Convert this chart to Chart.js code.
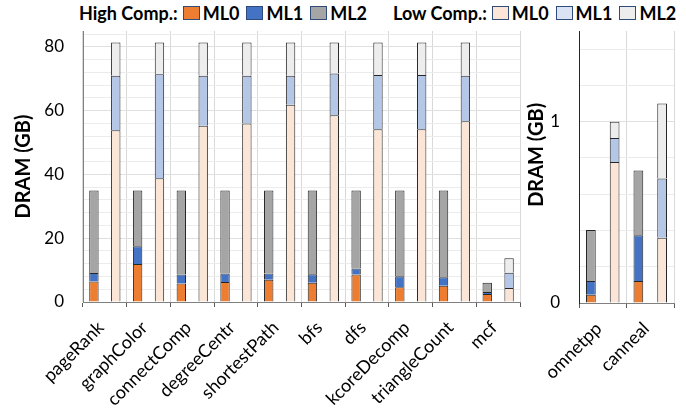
<!DOCTYPE html>
<html>
<head>
<meta charset="utf-8">
<script src="https://cdn.jsdelivr.net/npm/chart.js@4.4.1/dist/chart.umd.min.js"></script>
<style>
  body { margin: 0; background: #fff; width: 686px; height: 410px; overflow: hidden; position: relative; font-family: Lato, sans-serif; }
  .legend { position: absolute; top: 2px; display: flex; align-items: center; font-weight: 700; font-size: 18px; color: #000; white-space: nowrap; }
  .legend .box { display: inline-block; width: 15px; height: 12px; border: 1px solid #2f4b7c; margin: 0 3px 0 7px; }
  .legend .box.first { margin-left: 5px; }
  #wrapLeft { position: absolute; left: 0; top: 0; width: 530px; height: 410px; }
  #wrapRight { position: absolute; left: 500px; top: 0; width: 186px; height: 410px; }
</style>
</head>
<body>
<div class="legend" style="left:79px">
  <span>High Comp.:</span>
  <span class="box first" style="background:#ED7D31"></span><span>ML0</span>
  <span class="box" style="background:#4472C4"></span><span>ML1</span>
  <span class="box" style="background:#A5A5A5"></span><span>ML2</span>
</div>
<div class="legend" style="left:393px">
  <span>Low Comp.:</span>
  <span class="box first" style="background:#FBE5D6"></span><span>ML0</span>
  <span class="box" style="background:#DAE3F3"></span><span>ML1</span>
  <span class="box" style="background:#EDEDED"></span><span>ML2</span>
</div>
<div id="wrapLeft"><canvas id="chartLeft"></canvas></div>
<div id="wrapRight"><canvas id="chartRight"></canvas></div>

<script>
// panel izquierdo (GB)
const leftCategories = ['pageRank', 'graphColor', 'connectComp', 'degreeCentr', 'shortestPath', 'bfs', 'dfs', 'kcoreDecomp', 'triangleCount', 'mcf'];
const leftHighML0 = [6.4, 11.9, 5.8, 6.3, 7.0, 6.0, 8.6, 4.6, 5.1, 2.5];
const leftHighML1 = [2.7, 5.6, 2.8, 2.6, 1.9, 2.7, 1.9, 3.5, 2.65, 0.6];
const leftHighML2 = [25.9, 17.5, 26.4, 26.1, 26.1, 26.3, 24.5, 26.9, 27.25, 2.9];
const leftLowML0 = [53.9, 38.8, 55.3, 56.0, 61.9, 58.6, 54.2, 54.2, 56.7, 4.4];
const leftLowML1 = [17.1, 32.6, 15.7, 15.0, 9.1, 13.1, 17.0, 17.0, 14.3, 4.8];
const leftLowML2 = [10.4, 10.0, 10.4, 10.4, 10.4, 9.7, 10.2, 10.2, 10.4, 4.5];
const leftTickLabels = [0, 20, 40, 60, 80];

// panel derecho (GB)
const rightCategories = ['omnetpp', 'canneal'];
const rightHighML0 = [0.046, 0.122];
const rightHighML1 = [0.076, 0.251];
const rightHighML2 = [0.28, 0.358];
const rightLowML0 = [0.777, 0.36];
const rightLowML1 = [0.133, 0.326];
const rightLowML2 = [0.09, 0.414];
const rightTickLabels = [0, 1];

const highColors = ['#ED7D31', '#4472C4', '#A5A5A5'];
const lowColors = ['#FBE5D6', '#B4C7E7', '#EDEDED'];

function makeDatasets(high, low, barPct) {
    const sets = [];
    // sin borde inferior para que las juntas entre tramos queden de 1px
    const barStyle = {
        borderColor: '#262626',
        borderWidth: { top: 1, left: 1, right: 1, bottom: 0 },
        borderSkipped: false,
        barPercentage: barPct,
        categoryPercentage: 1
    };
    high.forEach((data, i) => sets.push({ label: 'High ML' + i, data, stack: 'high', backgroundColor: highColors[i], ...barStyle }));
    low.forEach((data, i) => sets.push({ label: 'Low ML' + i, data, stack: 'low', backgroundColor: lowColors[i], ...barStyle }));
    return sets;
}

function makeChart(id, p) {
    return new Chart(document.getElementById(id), {
        type: 'bar',
        data: { labels: p.categories, datasets: makeDatasets(p.high, p.low, p.barPct) },
        options: {
            responsive: true,
            maintainAspectRatio: false,
            animation: false,
            layout: { padding: { top: 31, right: p.rightPad, bottom: 0, left: 0 } },
            plugins: { legend: { display: false }, tooltip: { enabled: false } },
            scales: {
                x: {
                    stacked: true,
                    offset: true,
                    grid: { offset: true, color: '#d9d9d9', tickColor: '#595959', tickLength: 5 },
                    border: { color: '#808080' },
                    ticks: {
                        autoSkip: false, minRotation: 45, maxRotation: 45, padding: 10, labelOffset: -4,
                        color: '#000', font: { family: 'Lato', size: 18 }
                    },
                    afterFit: scale => { scale.height = p.xHeight; }
                },
                y: {
                    stacked: true,
                    min: 0,
                    max: p.yMax,
                    grid: {
                        drawTicks: false,
                        color: ctx => (ctx.tick && p.tickLabels.some(t => Math.abs(t - ctx.tick.value) < 1e-6)) ? '#e0e0e0' : '#ececec'
                    },
                    border: { color: p.yBorder },
                    ticks: {
                        autoSkip: false,
                        padding: 19,
                        color: '#000',
                        font: { family: 'Lato', size: 17 },
                        callback: v => p.tickLabels.some(t => Math.abs(t - v) < 1e-6) ? String(Math.round(v)) : ''
                    },
                    afterBuildTicks: scale => {
                        const n = Math.floor(p.yMax / p.step + 1e-9);
                        const t = [];
                        for (let i = 0; i <= n; i++) t.push({ value: Math.round(i * p.step * 1000) / 1000 });
                        scale.ticks = t;
                    },
                    title: {
                        display: true,
                        text: p.title,
                        color: '#000',
                        font: { family: 'Lato', size: 20, weight: 'bold', lineHeight: 1.2 },
                        padding: { top: p.titlePad, bottom: 0 }
                    },
                    afterFit: scale => { scale.width = p.yWidth; }
                }
            }
        }
    });
}

makeChart('chartLeft', {
    categories: leftCategories,
    high: [leftHighML0, leftHighML1, leftHighML2],
    low: [leftLowML0, leftLowML1, leftLowML2],
    tickLabels: leftTickLabels,
    title: 'DRAM (GB)',
    yMax: 85, step: 4, barPct: 0.43,
    yWidth: 83, titlePad: 12, rightPad: 10, xHeight: 108, yBorder: '#808080'
});

// el título derecho queda algo más arriba en el original
makeChart('chartRight', {
    categories: rightCategories,
    high: [rightHighML0, rightHighML1, rightHighML2],
    low: [rightLowML0, rightLowML1, rightLowML2],
    tickLabels: rightTickLabels,
    title: '     DRAM (GB)',
    yMax: 1.5, step: 0.2, barPct: 0.41,
    yWidth: 79, titlePad: 25, rightPad: 12, xHeight: 107, yBorder: '#262626'
});
</script>
</body>
</html>
